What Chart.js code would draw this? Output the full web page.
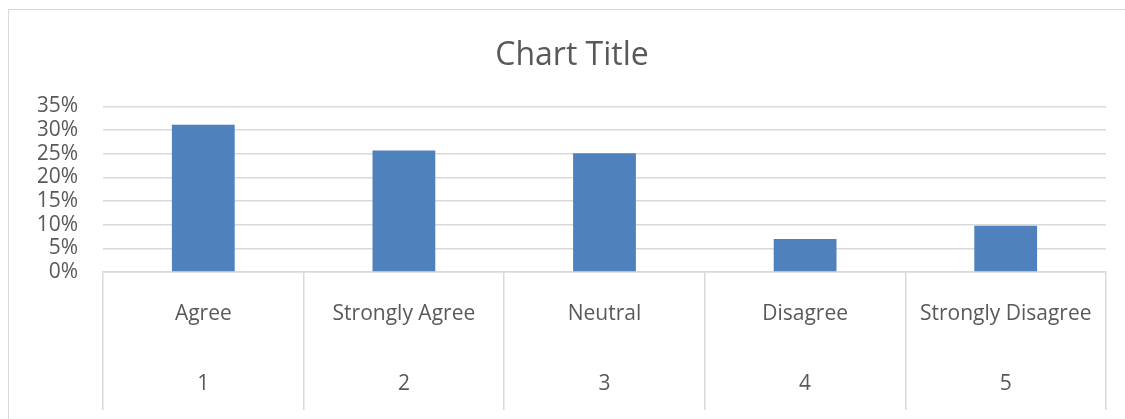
<!DOCTYPE html>
<html>
<head>
<meta charset="utf-8">
<title>Chart Title</title>
<script src="https://cdn.jsdelivr.net/npm/chart.js@4/dist/chart.umd.min.js"></script>
<style>
  body { margin: 0; background: #fff; }
  #wrap { position: relative; width: 1125px; height: 419px; overflow: hidden; }
  #wrap canvas { position: absolute; left: 0; top: 0; }
  /* outer chart frame, runs off the right and bottom edges */
  #frame { position: absolute; left: 8px; top: 9px; width: 1300px; height: 600px;
           border: 1.5px solid #d9d9d9; pointer-events: none; }
</style>
</head>
<body>
<div id="wrap">
  <canvas id="survey-chart" width="1125" height="419"></canvas>
  <div id="frame"></div>
</div>
<script>
const responses = ['Agree', 'Strongly Agree', 'Neutral', 'Disagree', 'Strongly Disagree'];
const responseCodes = ['1', '2', '3', '4', '5'];
const shares = [31.1, 25.7, 25.1, 7.0, 9.8];
const yMax = 35;
const yStep = 5;

const textColor = '#595959';
const lineColor = '#d9d9d9';

Chart.defaults.font.family = "'Open Sans', sans-serif";
Chart.defaults.color = textColor;

const ctx = document.querySelector('#survey-chart').getContext('2d');
new Chart(ctx, {
  type: 'bar',
  data: {
    // two-row category labels: response text, then its code
    labels: responses.map((r, i) => [r, responseCodes[i]]),
    datasets: [{
      label: 'Share',
      data: shares,
      backgroundColor: '#4f81bd',
      borderWidth: 0,
      barPercentage: 0.313,
      categoryPercentage: 1
    }]
  },
  options: {
    responsive: false,
    animation: false,
    devicePixelRatio: 1,
    layout: { padding: { top: 10, left: 38, right: 19, bottom: 2 } },
    plugins: {
      legend: { display: false },
      tooltip: { enabled: false },
      title: {
        display: true,
        text: 'Chart Title',
        color: textColor,
        font: { size: 32, weight: 'normal' },
        padding: { top: 27, bottom: 31 }
      }
    },
    scales: {
      x: {
        // tall category band; the tick marks become the dividers between categories
        afterFit: scale => { scale.height = 145; scale.paddingLeft = 0; scale.paddingRight = 0; },
        grid: {
          offset: true,
          drawOnChartArea: false,
          drawTicks: true,
          tickLength: 138,
          color: lineColor,
          lineWidth: 1.5
        },
        border: { display: true, color: lineColor, width: 1.5 },
        ticks: {
          color: textColor,
          font: { size: 21, lineHeight: 70 / 21 },
          padding: -131,
          maxRotation: 0,
          autoSkip: false
        }
      },
      y: {
        min: 0,
        max: yMax,
        afterFit: scale => { scale.width = 65; },
        grid: { color: lineColor, lineWidth: 1.5, drawTicks: false },
        border: { display: false },
        ticks: {
          stepSize: yStep,
          autoSkip: false,
          color: textColor,
          font: { size: 21, lineHeight: 1 },
          padding: 25,
          callback: v => v + '%'
        }
      }
    }
  }
});
</script>
</body>
</html>
